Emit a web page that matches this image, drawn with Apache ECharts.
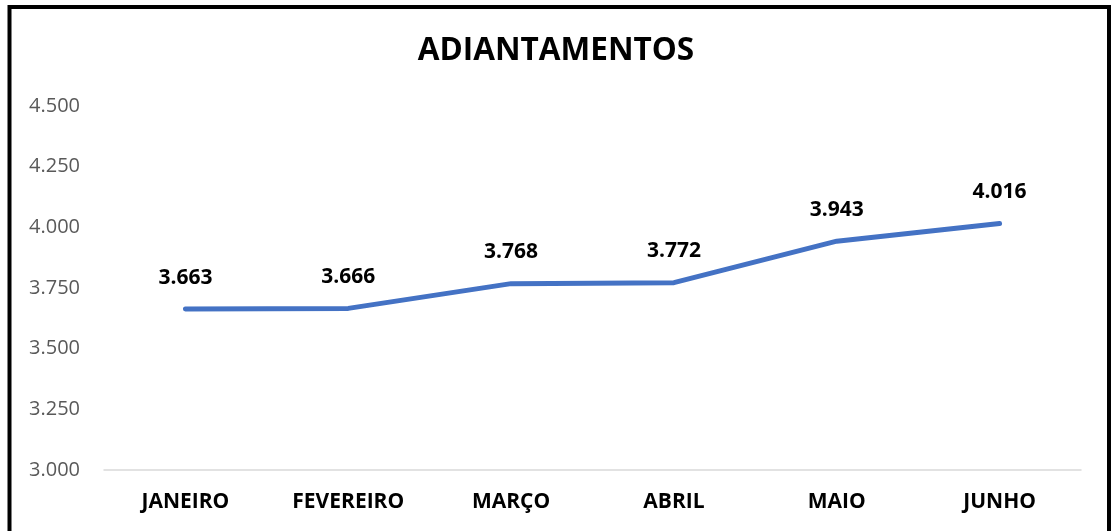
<!DOCTYPE html>
<html><head><meta charset="utf-8">
<script src="https://cdn.jsdelivr.net/npm/echarts@6/dist/echarts.min.js"></script>
<style>html,body{margin:0;padding:0;background:#fff}#c{width:1112px;height:531px}</style>
</head><body><div id="c"></div>
<script>
const title = 'ADIANTAMENTOS';
const categories = ['JANEIRO', 'FEVEREIRO', 'MARÇO', 'ABRIL', 'MAIO', 'JUNHO'];
const values = [3663, 3666, 3768, 3772, 3943, 4016];
const yMin = 3000, yMax = 4500, yStep = 250;

function fmt(v) {
  const s = String(Math.round(v));
  return s.replace(/\B(?=(\d{3})+(?!\d))/g, '.');
}

const chart = echarts.init(document.getElementById('c'));
chart.setOption({
  animation: false,
  backgroundColor: '#fff',
  title: {
    text: title, left: 'center', top: 30,
    textStyle: { fontFamily: 'Open Sans', fontWeight: 'bold', fontSize: 31.5, color: '#000' }
  },
  graphic: [{
    type: 'rect', silent: true,
    shape: { x: 9.5, y: 7, width: 1099.5, height: 540 },
    style: { fill: null, stroke: '#000', lineWidth: 4 }
  }],
  grid: { left: 104, right: 31, top: 106, bottom: 61 },
  xAxis: {
    type: 'category', data: categories, boundaryGap: true,
    axisLine: { lineStyle: { color: '#d9d9d9', width: 1.5 } },
    axisTick: { show: false },
    axisLabel: { fontFamily: 'Open Sans', fontWeight: 'bold', fontSize: 21, color: '#000', margin: 22 }
  },
  yAxis: {
    type: 'value', min: yMin, max: yMax, interval: yStep,
    axisLine: { show: false }, axisTick: { show: false },
    splitLine: { show: false },
    axisLabel: { fontFamily: 'Open Sans', fontSize: 20, color: '#595959', margin: 24, formatter: fmt }
  },
  series: [{
    type: 'line', data: values, showSymbol: true, symbol: 'circle', symbolSize: 2,
    itemStyle: { color: '#4472C4' },
    lineStyle: { color: '#4472C4', width: 5, cap: 'round', join: 'round' },
    label: {
      show: true, position: 'top', distance: 20,
      fontFamily: 'Open Sans', fontWeight: 'bold', fontSize: 21, color: '#000',
      formatter: p => fmt(p.value)
    }
  }]
});
</script></body></html>
